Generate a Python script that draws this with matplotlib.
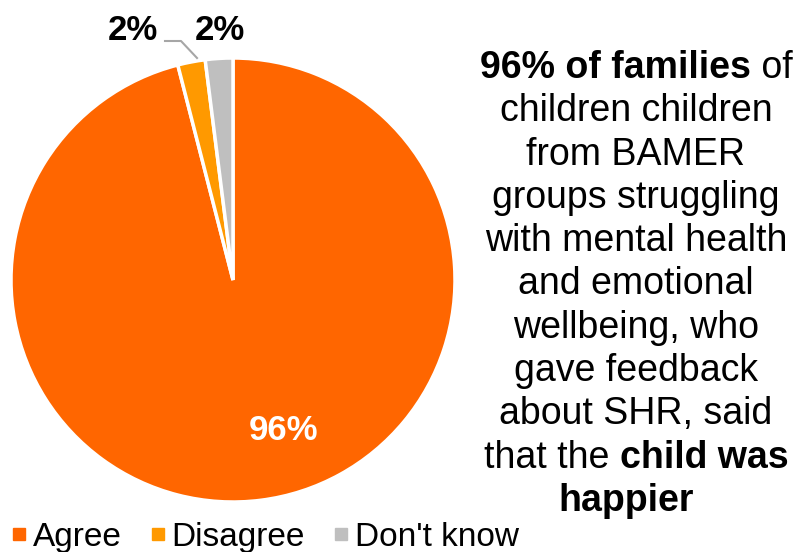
import numpy as np
import matplotlib
matplotlib.use("Agg")
import matplotlib.pyplot as plt
from matplotlib.lines import Line2D

plt.rcParams["font.family"] = ["Liberation Sans", "DejaVu Sans"]

categories = ["Agree", "Disagree", "Don't know"]
shares = [96, 2, 2]
colors = ["#FF6600", "#FF9900", "#BFBFBF"]

# caption lines: list of (text, bold) runs
caption = [
    [("96% of families", True), (" of", False)],
    [("children children", False)],
    [("from BAMER", False)],
    [("groups struggling", False)],
    [("with mental health", False)],
    [("and emotional", False)],
    [("wellbeing, who", False)],
    [("gave feedback", False)],
    [("about SHR, said", False)],
    [("that the ", False), ("child was", True)],
    [("happier", True)],
]

W, H = 801, 552
fig = plt.figure(figsize=(W / 100, H / 100), dpi=100)
ax = fig.add_axes([0, 0, 1, 1])

cx, cy, r = 233, H - 280, 222
wedges, _ = ax.pie(shares, colors=colors, startangle=90, counterclock=False,
                   center=(cx, cy), radius=r,
                   wedgeprops=dict(edgecolor="white", linewidth=2.5))
ax.set_xlim(0, W)
ax.set_ylim(0, H)
ax.set_aspect("equal")
ax.axis("off")

# slice labels
lab = dict(fontsize=25, fontweight="bold", ha="center", va="center")
ax.text(284, H - 430, f"{shares[0]}%", color="white", **lab)
ax.text(133, H - 30, f"{shares[1]}%", color="black", **lab)
ax.text(220, H - 30, f"{shares[2]}%", color="black", **lab)
ax.plot([165, 181, 197], [H - 41, H - 41, H - 58], color="#A6A6A6", lw=1.5)

# caption with mixed bold/regular runs, each line centred
fig.canvas.draw()
rend = fig.canvas.get_renderer()
fs = 27
y0, dy = H - 68, 43.3
for i, line in enumerate(caption):
    y = y0 - i * dy
    pieces = []
    for txt, bold in line:
        t = ax.text(0, y, txt, fontsize=fs, fontweight="bold" if bold else "normal",
                    ha="left", va="center")
        pieces.append(t)
    widths = [p.get_window_extent(rend).width for p in pieces]
    x = 636 - sum(widths) / 2
    if len(line) == 1 and line[0][0] == "happier":
        x -= 10
    for p, w in zip(pieces, widths):
        p.set_x(x)
        x += w

handles = [Line2D([], [], marker="s", color=c, linestyle="none", markersize=9) for c in colors]
fig.legend(handles, categories, loc="lower left", bbox_to_anchor=(-0.024, -0.056),
           ncol=3, frameon=False, fontsize=24, handlelength=0.5, handletextpad=0.15,
           columnspacing=0.85)

fig.savefig("out.png", dpi=100)
